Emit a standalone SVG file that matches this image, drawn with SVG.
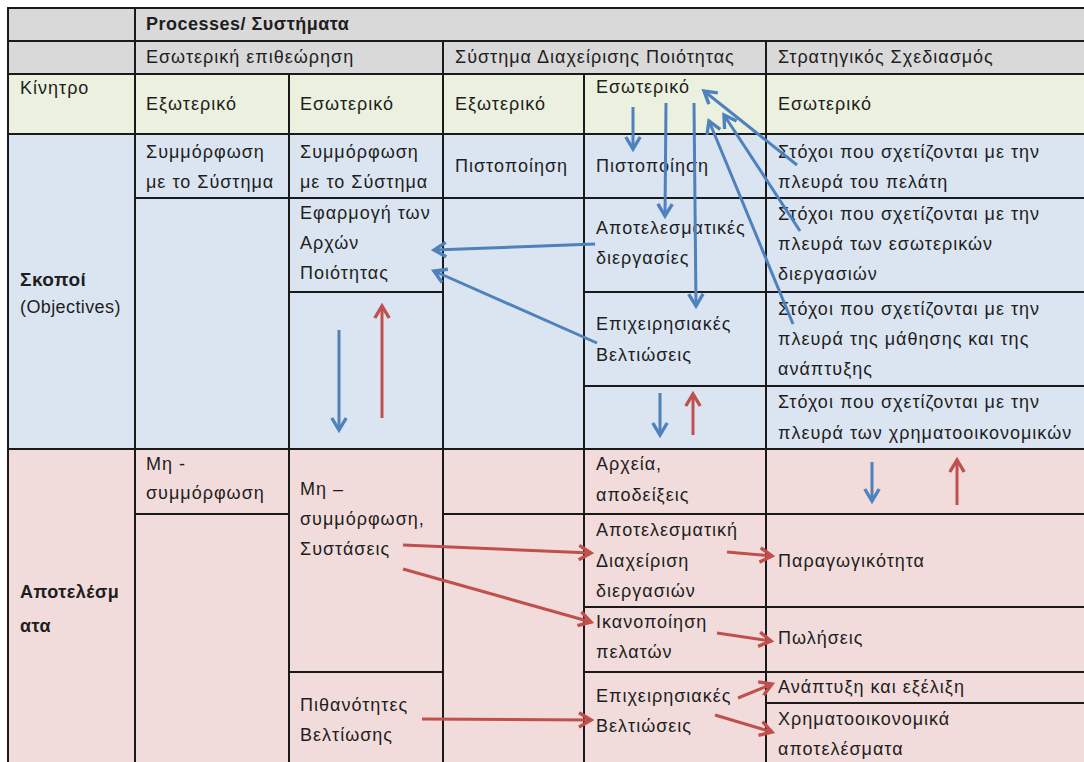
<svg xmlns="http://www.w3.org/2000/svg" width="1084" height="762" viewBox="0 0 1084 762">
  <style>
    .t { font-family: "Liberation Sans", Arial, sans-serif; font-size: 18px; fill: #1e1e1e; letter-spacing: 1px; }
    .b { font-family: "Liberation Sans", Arial, sans-serif; font-size: 18px; font-weight: bold; fill: #1e1e1e; letter-spacing: 0.5px; }
    .g { fill: #d9d9d9; stroke: #1a1a1a; stroke-width: 2; }
    .y { fill: #ebf1de; stroke: #1a1a1a; stroke-width: 2; }
    .s { fill: #dbe5f1; stroke: #1a1a1a; stroke-width: 2; }
    .r { fill: #f2dcdb; stroke: #1a1a1a; stroke-width: 2; }
    .ab { stroke: #4f81bd; stroke-width: 3; fill: none; marker-end: url(#hb); }
    .ar { stroke: #c0504d; stroke-width: 3; fill: none; marker-end: url(#hr); }
  </style>
  <defs>
    <!-- open chevron arrowheads -->
    <marker id="hb" markerUnits="userSpaceOnUse" viewBox="0 0 18 18" markerWidth="18" markerHeight="18" refX="15" refY="9" orient="auto">
      <path d="M3,1.8 L15,9 L3,16.2" fill="none" stroke="#4f81bd" stroke-width="3.4" stroke-linejoin="miter"/>
    </marker>
    <marker id="hr" markerUnits="userSpaceOnUse" viewBox="0 0 18 18" markerWidth="18" markerHeight="18" refX="15" refY="9" orient="auto">
      <path d="M3,1.8 L15,9 L3,16.2" fill="none" stroke="#c0504d" stroke-width="3.4" stroke-linejoin="miter"/>
    </marker>
  </defs>
  <rect width="1084" height="762" fill="#ffffff"/>

  <!-- header rows -->
  <g id="h-corner0"><rect class="g" x="8" y="8" width="127" height="33"/></g>
  <g id="h-processes"><rect class="g" x="135" y="8" width="960" height="33"/><text class="b" x="146" y="30">Processes/ Συστήματα</text></g>
  <g id="h-corner1"><rect class="g" x="8" y="41" width="127" height="33"/></g>
  <g id="h-audit"><rect class="g" x="135" y="41" width="308" height="33"/><text class="t" x="146" y="63">Εσωτερική επιθεώρηση</text></g>
  <g id="h-qms"><rect class="g" x="443" y="41" width="323" height="33"/><text class="t" x="455" y="63">Σύστημα Διαχείρισης Ποιότητας</text></g>
  <g id="h-strategy"><rect class="g" x="766" y="41" width="330" height="33"/><text class="t" x="778" y="63">Στρατηγικός Σχεδιασμός</text></g>

  <!-- motive row -->
  <g id="m-label"><rect class="y" x="8" y="74" width="127" height="60"/><text class="t" x="20" y="94">Κίνητρο</text></g>
  <g id="m-audit-ext"><rect class="y" x="135" y="74" width="154" height="60"/><text class="t" x="146" y="110">Εξωτερικό</text></g>
  <g id="m-audit-int"><rect class="y" x="289" y="74" width="154" height="60"/><text class="t" x="300" y="110">Εσωτερικό</text></g>
  <g id="m-qms-ext"><rect class="y" x="443" y="74" width="141" height="60"/><text class="t" x="455" y="110">Εξωτερικό</text></g>
  <g id="m-qms-int"><rect class="y" x="584" y="74" width="182" height="60"/><text class="t" x="596" y="93">Εσωτερικό</text></g>
  <g id="m-strategy"><rect class="y" x="766" y="74" width="330" height="60"/><text class="t" x="778" y="110">Εσωτερικό</text></g>

  <!-- objectives block -->
  <g id="o-label"><rect class="s" x="8" y="134" width="127" height="315"/><text class="b" x="20" y="286" style="font-size:19px">Σκοποί</text><text class="t" x="20" y="313" style="letter-spacing:0.4px">(Objectives)</text></g>
  <g id="o-a1"><rect class="s" x="135" y="134" width="154" height="64"/><text class="t" x="146" y="158">Συμμόρφωση</text><text class="t" x="146" y="188">με το Σύστημα</text></g>
  <g id="o-a1-empty"><rect class="s" x="135" y="198" width="154" height="251"/></g>
  <g id="o-b1"><rect class="s" x="289" y="134" width="154" height="64"/><text class="t" x="300" y="158">Συμμόρφωση</text><text class="t" x="300" y="188">με το Σύστημα</text></g>
  <g id="o-b2"><rect class="s" x="289" y="198" width="154" height="94"/><text class="t" x="300" y="219">Εφαρμογή των</text><text class="t" x="300" y="249">Αρχών</text><text class="t" x="300" y="279">Ποιότητας</text></g>
  <g id="o-b3"><rect class="s" x="289" y="292" width="154" height="157"/></g>
  <g id="o-c1"><rect class="s" x="443" y="134" width="141" height="64"/><text class="t" x="455" y="172">Πιστοποίηση</text></g>
  <g id="o-c1-empty"><rect class="s" x="443" y="198" width="141" height="251"/></g>
  <g id="o-d1"><rect class="s" x="584" y="134" width="182" height="64"/><text class="t" x="596" y="172">Πιστοποίηση</text></g>
  <g id="o-d2"><rect class="s" x="584" y="198" width="182" height="94"/><text class="t" x="596" y="234">Αποτελεσματικές</text><text class="t" x="596" y="264">διεργασίες</text></g>
  <g id="o-d3"><rect class="s" x="584" y="292" width="182" height="94"/><text class="t" x="596" y="330">Επιχειρησιακές</text><text class="t" x="596" y="361">Βελτιώσεις</text></g>
  <g id="o-d4"><rect class="s" x="584" y="386" width="182" height="63"/></g>
  <g id="o-e1"><rect class="s" x="766" y="134" width="330" height="64"/><text class="t" x="778" y="158">Στόχοι που σχετίζονται με την</text><text class="t" x="778" y="188">πλευρά του πελάτη</text></g>
  <g id="o-e2"><rect class="s" x="766" y="198" width="330" height="94"/><text class="t" x="778" y="220">Στόχοι που σχετίζονται με την</text><text class="t" x="778" y="250">πλευρά των εσωτερικών</text><text class="t" x="778" y="280">διεργασιών</text></g>
  <g id="o-e3"><rect class="s" x="766" y="292" width="330" height="94"/><text class="t" x="778" y="315">Στόχοι που σχετίζονται με την</text><text class="t" x="778" y="345">πλευρά της μάθησης και της</text><text class="t" x="778" y="375">ανάπτυξης</text></g>
  <g id="o-e4"><rect class="s" x="766" y="386" width="330" height="63"/><text class="t" x="778" y="408">Στόχοι που σχετίζονται με την</text><text class="t" x="778" y="439">πλευρά των χρηματοοικονομικών</text></g>

  <!-- results block -->
  <g id="r-label"><rect class="r" x="8" y="449" width="127" height="330"/><text class="b" x="20" y="598">Αποτελέσμ</text><text class="b" x="20" y="632">ατα</text></g>
  <g id="r-a1"><rect class="r" x="135" y="449" width="154" height="65"/><text class="t" x="146" y="470">Μη -</text><text class="t" x="146" y="499">συμμόρφωση</text></g>
  <g id="r-a1-empty"><rect class="r" x="135" y="514" width="154" height="265"/></g>
  <g id="r-b1"><rect class="r" x="289" y="449" width="154" height="223"/><text class="t" x="300" y="495">Μη –</text><text class="t" x="300" y="525">συμμόρφωση,</text><text class="t" x="300" y="555">Συστάσεις</text></g>
  <g id="r-b2"><rect class="r" x="289" y="672" width="154" height="107"/><text class="t" x="300" y="711">Πιθανότητες</text><text class="t" x="300" y="741">Βελτίωσης</text></g>
  <g id="r-c1"><rect class="r" x="443" y="449" width="141" height="65"/></g>
  <g id="r-c2"><rect class="r" x="443" y="514" width="141" height="265"/></g>
  <g id="r-d1"><rect class="r" x="584" y="449" width="182" height="65"/><text class="t" x="596" y="470">Αρχεία,</text><text class="t" x="596" y="501">αποδείξεις</text></g>
  <g id="r-d2"><rect class="r" x="584" y="514" width="182" height="93"/><text class="t" x="596" y="536">Αποτελεσματική</text><text class="t" x="596" y="567">Διαχείριση</text><text class="t" x="596" y="597">διεργασιών</text></g>
  <g id="r-d3"><rect class="r" x="584" y="607" width="182" height="65"/><text class="t" x="596" y="628">Ικανοποίηση</text><text class="t" x="596" y="658">πελατών</text></g>
  <g id="r-d4"><rect class="r" x="584" y="672" width="182" height="107"/><text class="t" x="596" y="702">Επιχειρησιακές</text><text class="t" x="596" y="732">Βελτιώσεις</text></g>
  <g id="r-e1"><rect class="r" x="766" y="449" width="330" height="65"/></g>
  <g id="r-e2"><rect class="r" x="766" y="514" width="330" height="93"/><text class="t" x="778" y="567">Παραγωγικότητα</text></g>
  <g id="r-e3"><rect class="r" x="766" y="607" width="330" height="65"/><text class="t" x="778" y="644">Πωλήσεις</text></g>
  <g id="r-e4"><rect class="r" x="766" y="672" width="330" height="31"/><text class="t" x="778" y="693">Ανάπτυξη και εξέλιξη</text></g>
  <g id="r-e5"><rect class="r" x="766" y="703" width="330" height="76"/><text class="t" x="778" y="725">Χρηματοοικονομικά</text><text class="t" x="778" y="755">αποτελέσματα</text></g>

  <!-- connectors -->
  <g id="connectors">
    <line class="ab" x1="633" y1="107" x2="633" y2="149"/>
    <line class="ab" x1="666" y1="103" x2="665" y2="216"/>
    <line class="ab" x1="694" y1="103" x2="696" y2="306"/>
    <line class="ab" x1="797" y1="165" x2="704" y2="91"/>
    <line class="ab" x1="793" y1="324" x2="709" y2="121"/>
    <line class="ab" x1="800" y1="231" x2="724" y2="115"/>
    <line class="ab" x1="595" y1="244" x2="434" y2="250"/>
    <line class="ab" x1="597" y1="343" x2="434" y2="271"/>
    <line class="ab" x1="339" y1="330" x2="339" y2="430"/>
    <line class="ar" x1="382" y1="418" x2="382" y2="306"/>
    <line class="ab" x1="660" y1="393" x2="660" y2="435"/>
    <line class="ar" x1="693" y1="435" x2="693" y2="394"/>
    <line class="ab" x1="872" y1="462" x2="872" y2="501"/>
    <line class="ar" x1="957" y1="505" x2="957" y2="460"/>
    <line class="ar" x1="403" y1="545" x2="591" y2="553"/>
    <line class="ar" x1="403" y1="569" x2="591" y2="622"/>
    <line class="ar" x1="422" y1="719" x2="591" y2="720"/>
    <line class="ar" x1="727" y1="552" x2="772" y2="556"/>
    <line class="ar" x1="717" y1="633" x2="771" y2="641"/>
    <line class="ar" x1="738" y1="698" x2="772" y2="684"/>
    <line class="ar" x1="715" y1="715" x2="772" y2="732"/>
  </g>
</svg>
